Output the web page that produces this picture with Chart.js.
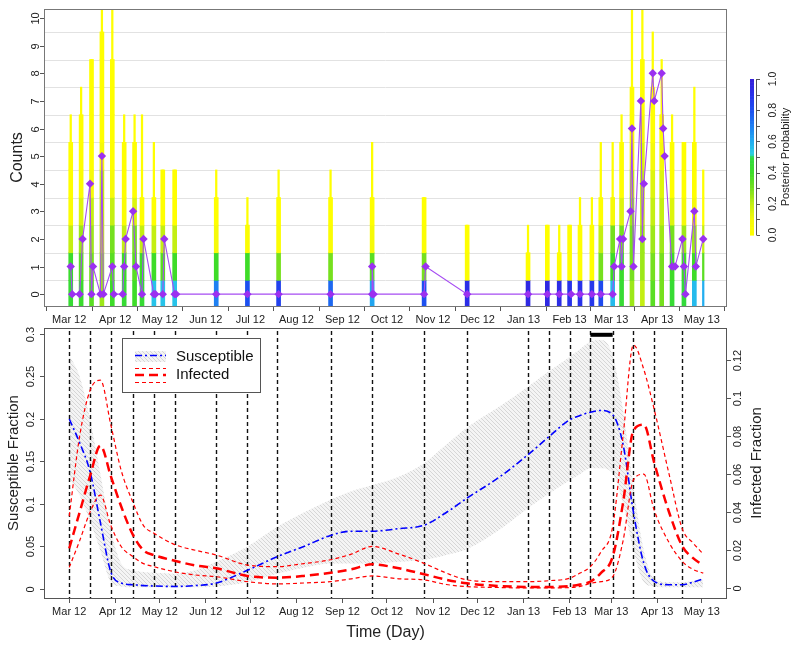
<!DOCTYPE html>
<html>
<head>
<meta charset="utf-8">
<script src="https://cdn.jsdelivr.net/npm/chart.js@4.4.0/dist/chart.umd.min.js"></script>
<style>
  html, body { margin: 0; padding: 0; background: #fff; }
  #wrap { position: relative; width: 800px; height: 650px; }
  canvas { position: absolute; left: 0; }
</style>
</head>
<body>
<div id="wrap">
  <canvas id="top" width="800" height="330" style="top:0;width:800px;height:330px"></canvas>
  <canvas id="bottom" width="800" height="325" style="top:325px;width:800px;height:325px"></canvas>
</div>
<script>
// time axis: days since 1 Mar 2012
var monthDays = [0, 31, 61, 92, 122, 153, 184, 214, 245, 275, 306, 337, 365, 396, 426];
var monthLabels = ["Mar 12", "Apr 12", "May 12", "Jun 12", "Jul 12", "Aug 12", "Sep 12", "Oct 12",
                   "Nov 12", "Dec 12", "Jan 13", "Feb 13", "Mar 13", "Apr 13", "May 13"];

// top panel: observed counts (purple)
var countDays = [1, 2, 7, 9, 14, 15, 16, 21, 22, 23, 29, 30, 36, 37, 38, 43, 45, 49, 50, 57,
                 58, 63, 64, 71, 72, 99, 120, 141, 176, 204, 204, 205, 239, 240, 268, 309, 322, 330, 338, 344,
                 352, 358, 366, 367, 371, 372, 373, 378, 379, 380, 385, 386, 387, 393, 394, 399, 400, 401, 406, 408,
                 413, 414, 415, 421, 422, 427];
var countValues = [1, 0, 0, 2, 4, 0, 1, 0, 5, 0, 1, 0, 0, 1, 2, 3, 1, 0, 2, 0,
                   0, 0, 2, 0, 0, 0, 0, 0, 0, 0, 1, 0, 0, 1, 0, 0, 0, 0, 0, 0,
                   0, 0, 0, 1, 2, 1, 2, 3, 6, 1, 7, 2, 4, 8, 7, 8, 6, 5, 1, 1,
                   2, 1, 0, 3, 1, 2];

// top panel: posterior probability columns
var colDays = [1, 8, 15, 22, 29, 37, 44, 49, 57, 63, 71, 99, 120, 141, 176, 204, 239, 268,
               309, 322, 330, 337, 344, 352, 358, 366, 372, 379, 386, 393, 399, 406, 414, 421, 427];
var colWide = [6, 7, 9, 10, 9, 6, 6, 4, 4, 5, 5, 4, 3, 4, 4, 4, 4, 3,
               2, 3, 2, 3, 3, 3, 4, 4, 6, 8, 9, 8, 7, 6, 6, 6, 0];
var colThin = [7, 8, 9, 11, 11, 7, 7, 7, 6, 5, 5, 5, 4, 5, 5, 6, 4, 3,
               3, 3, 3, 3, 4, 4, 6, 6, 7, 11, 11, 10, 9, 7, 6, 8, 5];
var colProbs = [
  [0.45, 0.42, 0.2, 0.05], [0.42, 0.35, 0.25, 0.15, 0.05], [0.35, 0.3, 0.25, 0.2, 0.1],
  [0.25, 0.25, 0.2, 0.2, 0.2, 0.1], [0.4, 0.35, 0.3, 0.2, 0.1], [0.45, 0.4, 0.2, 0.05],
  [0.4, 0.35, 0.3, 0.15], [0.45, 0.4, 0.2], [0.55, 0.4, 0.2], [0.55, 0.35, 0.2], [0.55, 0.4, 0.2],
  [0.7, 0.4, 0.1], [0.8, 0.4, 0.05], [0.85, 0.3, 0.05], [0.75, 0.3, 0.05], [0.62, 0.35, 0.1],
  [0.8, 0.3, 0.05], [0.92, 0.05],
  [0.95], [0.95], [0.93], [0.9], [0.9], [0.88], [0.82, 0.3, 0.2],
  [0.57, 0.4, 0.3, 0.1], [0.45, 0.42, 0.3, 0.15], [0.25, 0.3, 0.3, 0.25, 0.2, 0.1],
  [0.2, 0.25, 0.25, 0.2, 0.2, 0.15, 0.1], [0.35, 0.3, 0.25, 0.2, 0.15, 0.1],
  [0.3, 0.3, 0.25, 0.2, 0.15, 0.1], [0.45, 0.4, 0.3, 0.15], [0.48, 0.4, 0.25, 0.1],
  [0.57, 0.4, 0.25, 0.1], [0.6, 0.35, 0.2]
];
var countTicks = [0, 1, 2, 3, 4, 5, 6, 7, 8, 9, 10];
var probTicks = [0, 0.2, 0.4, 0.6, 0.8, 1.0];

// bottom panel: fractions
var fracDays = [0, 7, 14, 21, 28, 35, 43, 50, 57, 71, 85, 99, 120, 140, 158, 176, 190, 204, 222, 239,
                254, 268, 290, 309, 323, 337, 344, 351, 358, 366, 373, 380, 387, 394, 404, 413, 420, 427];
var susMed = [0.2, 0.172, 0.138, 0.078, 0.02, 0.007, 0.005, 0.004, 0.0035, 0.003, 0.004, 0.007, 0.022, 0.038, 0.05,
              0.063, 0.068, 0.068, 0.071, 0.075, 0.09, 0.107, 0.132, 0.158, 0.179, 0.199, 0.204, 0.208, 0.21, 0.205,
              0.17, 0.09, 0.03, 0.009, 0.005, 0.005, 0.008, 0.012];
var susHi = [0.275, 0.25, 0.2, 0.135, 0.07, 0.03, 0.022, 0.02, 0.019, 0.018, 0.022, 0.032, 0.05, 0.073, 0.09,
             0.105, 0.115, 0.122, 0.132, 0.148, 0.17, 0.19, 0.215, 0.238, 0.256, 0.273, 0.282, 0.291, 0.293, 0.275,
             0.21, 0.12, 0.045, 0.012, 0.008, 0.008, 0.009, 0.011];
var susLo = [0.13, 0.11, 0.08, 0.045, 0.008, 0.003, 0.002, 0.002, 0.002, 0.002, 0.002, 0.003, 0.008, 0.018, 0.025,
             0.03, 0.03, 0.03, 0.032, 0.034, 0.04, 0.047, 0.07, 0.095, 0.112, 0.128, 0.135, 0.142, 0.142, 0.136,
             0.1, 0.045, 0.008, 0.003, 0.002, 0.002, 0.002, 0.002];
var infMed = [0.021, 0.04, 0.059, 0.075, 0.059, 0.043, 0.028, 0.02, 0.0175, 0.0145, 0.012, 0.0105, 0.0065, 0.0056, 0.0065,
              0.0082, 0.01, 0.0126, 0.0105, 0.0074, 0.0045, 0.0026, 0.0012, 0.0007, 0.0007, 0.0012, 0.002, 0.0035, 0.008, 0.0166,
              0.045, 0.083, 0.086, 0.066, 0.04, 0.022, 0.016, 0.012];
var infHi = [0.038, 0.08, 0.104, 0.1095, 0.086, 0.062, 0.045, 0.033, 0.029, 0.023, 0.02, 0.0175, 0.0122, 0.0114, 0.013,
             0.015, 0.018, 0.022, 0.018, 0.0131, 0.008, 0.0044, 0.0035, 0.0035, 0.004, 0.0053, 0.008, 0.0114, 0.019, 0.0324,
             0.08, 0.128, 0.115, 0.094, 0.06, 0.031, 0.024, 0.018];
var infLo = [0.011, 0.025, 0.04, 0.049, 0.033, 0.022, 0.0166, 0.013, 0.0114, 0.0087, 0.007, 0.0061, 0.0035, 0.0023, 0.0028,
             0.0035, 0.005, 0.0065, 0.005, 0.0044, 0.002, 0.0009, 0.0004, 0.0002, 0.0002, 0.0004, 0.001, 0.0026, 0.0035, 0.0061,
             0.025, 0.057, 0.06, 0.041, 0.024, 0.014, 0.01, 0.008];
var knotDays = [0, 14, 28, 43, 57, 71, 99, 120, 140, 176, 204, 239, 268, 309, 323, 337, 351, 366, 380, 394, 413];
var peakWindow = [351, 366];
var peakLevel = 0.299;
var susTicks = [0, 0.05, 0.1, 0.15, 0.2, 0.25, 0.3];
var susTickLabels = ["0", "0.05", "0.1", "0.15", "0.2", "0.25", "0.3"];
var infTicks = [0, 0.02, 0.04, 0.06, 0.08, 0.1, 0.12];
var infTickLabels = ["0", "0.02", "0.04", "0.06", "0.08", "0.1", "0.12"];

var FONT = "'Liberation Sans', Arial, sans-serif";
Chart.defaults.font.family = FONT;
Chart.defaults.color = "#222";

// yellow -> green -> cyan -> blue palette of the colour key
var stops = [[0, "#ffff00"], [0.1, "#f6fa08"], [0.2, "#c4ef12"], [0.3, "#76e01e"], [0.4, "#3edc28"],
             [0.5, "#30da40"], [0.52, "#2ad0e4"], [0.6, "#22aef0"], [0.7, "#1e80f2"], [0.8, "#1c50f0"],
             [0.9, "#2832ea"], [1, "#3620da"]];
function rgb(h) { return [1, 3, 5].map(function (i) { return parseInt(h.substr(i, 2), 16); }); }
function probColor(p) {
  for (var i = 1; i < stops.length; i++) {
    if (p <= stops[i][0]) {
      var a = rgb(stops[i - 1][1]), b = rgb(stops[i][1]);
      var t = (p - stops[i - 1][0]) / (stops[i][0] - stops[i - 1][0]);
      return "rgb(" + a.map(function (v, j) { return Math.round(v + (b[j] - v) * t); }).join(",") + ")";
    }
  }
  return stops[stops.length - 1][1];
}

function vText(ctx, str, x, y, size) {
  ctx.save();
  ctx.translate(x, y);
  ctx.rotate(-Math.PI / 2);
  ctx.font = size + "px " + FONT;
  ctx.textAlign = "center";
  ctx.textBaseline = "middle";
  ctx.fillStyle = "#222";
  ctx.fillText(str, 0, 0);
  ctx.restore();
}

function xAxis(height) {
  return {
    type: "linear", min: -17, max: 443, offset: false, stacked: true,
    afterBuildTicks: function (axis) { axis.ticks = monthDays.map(function (v) { return { value: v }; }); },
    afterFit: function (s) { s.height = height; },
    ticks: {
      autoSkip: false, maxRotation: 0, minRotation: 0, padding: 2, font: { size: 11 }, color: "#222",
      callback: function (v) { return monthLabels[monthDays.indexOf(v)]; }
    },
    grid: { drawOnChartArea: false, drawTicks: true, tickLength: 5, tickColor: "#555", color: "#555" },
    border: { display: false }
  };
}

function hiddenY(width, pos, min, max) {
  return {
    position: pos, min: min, max: max,
    ticks: { display: false }, grid: { display: false }, border: { display: false },
    afterFit: function (s) { s.width = width; }
  };
}

// ---------------- top panel ----------------
var wideCells = [], thinCells = [];
colDays.forEach(function (d, i) {
  for (var k = 0; k < colThin[i]; k++) thinCells.push({ x: d, y: [k - 0.5, k + 0.5], p: colProbs[i][k] || 0 });
  for (var k2 = 0; k2 < colWide[i]; k2++) wideCells.push({ x: d, y: [k2 - 0.5, k2 + 0.5], p: colProbs[i][k2] || 0 });
});
function cellColor(c) { return probColor(c.raw ? c.raw.p : 0); }

var topDecor = {
  id: "topDecor",
  beforeDatasetsDraw: function (chart) {
    var ctx = chart.ctx, a = chart.chartArea, y = chart.scales.y;
    ctx.save();
    ctx.strokeStyle = "#e2e2e2";
    ctx.lineWidth = 1;
    for (var k = 0; k < 10; k++) {
      var py = Math.round(y.getPixelForValue(k + 0.5)) + 0.5;
      ctx.beginPath(); ctx.moveTo(a.left, py); ctx.lineTo(a.right, py); ctx.stroke();
    }
    ctx.restore();
  },
  afterDraw: function (chart) {
    var ctx = chart.ctx, a = chart.chartArea, y = chart.scales.y;
    ctx.save();
    ctx.strokeStyle = "#777";
    ctx.lineWidth = 1;
    ctx.strokeRect(a.left + 0.5, a.top + 0.5, a.width - 1, a.height);
    ctx.strokeStyle = "#555";
    countTicks.forEach(function (v) {
      var py = Math.round(y.getPixelForValue(v)) + 0.5;
      ctx.beginPath(); ctx.moveTo(a.left, py); ctx.lineTo(a.left - 4, py); ctx.stroke();
      vText(ctx, String(v), 36, py, 11);
    });
    vText(ctx, "Counts", 18, (a.top + a.bottom) / 2, 16);

    // colour key
    var top = 79, bot = 235, cx = 752;
    for (var i = 0; i < 100; i++) {
      var p0 = i / 100;
      ctx.fillStyle = probColor(p0 + 0.005);
      ctx.fillRect(cx - 2, bot - (i + 1) * (bot - top) / 100, 4, (bot - top) / 100 + 0.6);
    }
    ctx.strokeStyle = "#555";
    ctx.beginPath(); ctx.moveTo(756.5, top); ctx.lineTo(756.5, bot); ctx.stroke();
    for (var j = 0; j <= 10; j++) {
      var ty = Math.round(bot - j * (bot - top) / 10) + 0.5;
      ctx.beginPath(); ctx.moveTo(756.5, ty); ctx.lineTo(760, ty); ctx.stroke();
    }
    probTicks.forEach(function (p) {
      vText(ctx, p.toFixed(1), 773, bot - p * (bot - top), 10.5);
    });
    vText(ctx, "Posterior Probability", 786, (top + bot) / 2, 11);
    ctx.restore();
  }
};

new Chart(document.getElementById("top"), {
  type: "bar",
  data: {
    datasets: [
      {
        type: "line", label: "Counts",
        data: countDays.map(function (d, i) { return { x: d, y: countValues[i] }; }),
        borderColor: "#a64cf2", borderWidth: 1.1, pointStyle: "rectRot", pointRadius: 4.2,
        pointBackgroundColor: "#9b30f0", pointBorderColor: "#9b30f0", pointBorderWidth: 0, tension: 0
      },
      { label: "wide", data: wideCells, backgroundColor: cellColor, barThickness: 4, borderWidth: 0 },
      { label: "thin", data: thinCells, backgroundColor: cellColor, barThickness: 1.6, borderWidth: 0 }
    ]
  },
  options: {
    responsive: false, maintainAspectRatio: false, animation: false, devicePixelRatio: 1,
    layout: { padding: { left: 0, right: 73, top: 9, bottom: 0 } },
    plugins: { legend: { display: false }, tooltip: { enabled: false } },
    scales: {
      x: xAxis(24),
      y: hiddenY(44, "left", -0.43, 10.33)
    }
  },
  plugins: [topDecor]
});

// ---------------- bottom panel ----------------
function hatch() {
  var c = document.createElement("canvas");
  c.width = 4; c.height = 4;
  var g = c.getContext("2d");
  g.fillStyle = "#f4f4f4"; g.fillRect(0, 0, 4, 4);
  g.strokeStyle = "#d6d6d6"; g.lineWidth = 1;
  g.beginPath(); g.moveTo(-1, -1); g.lineTo(5, 5); g.stroke();
  g.beginPath(); g.moveTo(3, -1); g.lineTo(5, 1); g.stroke();
  g.beginPath(); g.moveTo(-1, 3); g.lineTo(1, 5); g.stroke();
  return g.createPattern(c, "repeat");
}
var band = hatch();

function series(vals) { return fracDays.map(function (d, i) { return { x: d, y: vals[i] }; }); }

var bottomDecor = {
  id: "bottomDecor",
  beforeDatasetsDraw: function (chart) {
    var ctx = chart.ctx, a = chart.chartArea, x = chart.scales.x;
    ctx.save();
    ctx.strokeStyle = "#111";
    ctx.lineWidth = 1.4;
    ctx.setLineDash([4, 3]);
    knotDays.forEach(function (d) {
      var px = Math.round(x.getPixelForValue(d)) + 0.5;
      ctx.beginPath(); ctx.moveTo(px, a.top + 3); ctx.lineTo(px, a.bottom); ctx.stroke();
    });
    ctx.restore();
  },
  afterDraw: function (chart) {
    var ctx = chart.ctx, a = chart.chartArea, yS = chart.scales.y, yI = chart.scales.yI;
    ctx.save();
    ctx.strokeStyle = "#555";
    ctx.lineWidth = 1;
    ctx.strokeRect(a.left + 0.5, a.top + 0.5, a.width - 1, a.height);
    susTicks.forEach(function (v, i) {
      var py = Math.round(yS.getPixelForValue(v)) + 0.5;
      ctx.beginPath(); ctx.moveTo(a.left, py); ctx.lineTo(a.left - 4, py); ctx.stroke();
      vText(ctx, susTickLabels[i], 31, py, 11);
    });
    infTicks.forEach(function (v, i) {
      var py = Math.round(yI.getPixelForValue(v)) + 0.5;
      ctx.beginPath(); ctx.moveTo(a.right, py); ctx.lineTo(a.right + 4, py); ctx.stroke();
      vText(ctx, infTickLabels[i], 738, py, 11);
    });
    var midY = (a.top + a.bottom) / 2;
    vText(ctx, "Susceptible Fraction", 14, midY, 15);
    vText(ctx, "Infected Fraction", 757, midY, 15);
    ctx.font = "16px " + FONT;
    ctx.fillStyle = "#222";
    ctx.textAlign = "center";
    ctx.textBaseline = "middle";
    ctx.fillText("Time (Day)", (a.left + a.right) / 2, 308);

    // legend
    ctx.fillStyle = "#fff";
    ctx.fillRect(122, 13, 138, 54);
    ctx.strokeStyle = "#555";
    ctx.strokeRect(122.5, 13.5, 138, 54);
    ctx.fillStyle = band;
    ctx.fillRect(135, 26, 31, 11);
    ctx.strokeStyle = "#0000ff"; ctx.lineWidth = 1.6; ctx.setLineDash([7, 3, 2, 3]);
    ctx.beginPath(); ctx.moveTo(135, 30.5); ctx.lineTo(166, 30.5); ctx.stroke();
    ctx.strokeStyle = "#ff0000"; ctx.lineWidth = 1.2; ctx.setLineDash([4, 3]);
    ctx.beginPath(); ctx.moveTo(135, 43.5); ctx.lineTo(166, 43.5); ctx.stroke();
    ctx.beginPath(); ctx.moveTo(135, 57.5); ctx.lineTo(166, 57.5); ctx.stroke();
    ctx.lineWidth = 2.5; ctx.setLineDash([9, 5]);
    ctx.beginPath(); ctx.moveTo(135, 50); ctx.lineTo(166, 50); ctx.stroke();
    ctx.setLineDash([]);
    ctx.fillStyle = "#111";
    ctx.font = "15px " + FONT;
    ctx.textAlign = "left";
    ctx.fillText("Susceptible", 176, 32);
    ctx.fillText("Infected", 176, 50);
    ctx.restore();
  }
};

var lineBase = { pointRadius: 0, cubicInterpolationMode: "monotone", fill: false };

new Chart(document.getElementById("bottom"), {
  type: "line",
  data: {
    datasets: [
      Object.assign({}, lineBase, {
        label: "peak window", yAxisID: "y",
        data: peakWindow.map(function (d) { return { x: d, y: peakLevel }; }),
        borderColor: "#000", borderWidth: 4, cubicInterpolationMode: "default"
      }),
      Object.assign({}, lineBase, {
        label: "Infected", yAxisID: "yI", data: series(infMed),
        borderColor: "#ff0000", borderWidth: 2.5, borderDash: [9, 5]
      }),
      Object.assign({}, lineBase, {
        label: "Infected upper", yAxisID: "yI", data: series(infHi),
        borderColor: "#ff0000", borderWidth: 1.2, borderDash: [4, 3]
      }),
      Object.assign({}, lineBase, {
        label: "Infected lower", yAxisID: "yI", data: series(infLo),
        borderColor: "#ff0000", borderWidth: 1.2, borderDash: [4, 3]
      }),
      Object.assign({}, lineBase, {
        label: "Susceptible", yAxisID: "y", data: series(susMed),
        borderColor: "#0000ff", borderWidth: 1.6, borderDash: [7, 3, 2, 3]
      }),
      Object.assign({}, lineBase, {
        label: "Susceptible upper", yAxisID: "y", data: series(susHi),
        borderWidth: 0, borderColor: "rgba(0,0,0,0)", backgroundColor: band, fill: "+1"
      }),
      Object.assign({}, lineBase, {
        label: "Susceptible lower", yAxisID: "y", data: series(susLo),
        borderWidth: 0, borderColor: "rgba(0,0,0,0)"
      })
    ]
  },
  options: {
    responsive: false, maintainAspectRatio: false, animation: false, devicePixelRatio: 1,
    layout: { padding: { left: 0, right: 0, top: 3, bottom: 0 } },
    plugins: {
      legend: { display: false }, tooltip: { enabled: false },
      filler: { drawTime: "beforeDatasetsDraw" }
    },
    scales: {
      x: xAxis(52),
      y: hiddenY(44, "left", -0.0106, 0.307),
      yI: hiddenY(73, "right", -0.0051, 0.1369)
    }
  },
  plugins: [bottomDecor]
});
</script>
</body>
</html>
